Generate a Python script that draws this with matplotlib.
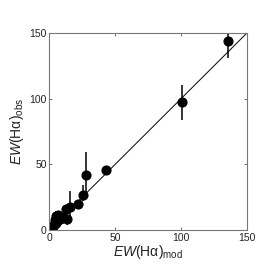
import numpy as np
import matplotlib
matplotlib.use('Agg')
import matplotlib.pyplot as plt

plt.rcParams['font.family'] = 'Liberation Sans'
plt.rcParams['mathtext.fontset'] = 'custom'
plt.rcParams['mathtext.rm'] = 'Liberation Sans'
plt.rcParams['mathtext.it'] = 'Liberation Sans:italic'

# EW(Ha) model vs observed
ew_mod = [135.5, 100.6, 42.6, 27.7, 25.6, 22.0, 15.8, 12.7, 13.5, 7.4, 4.9, 9.5, 6.0, 5.0, 3.5, 2.5, 1.5, 8.0, 10.5, 0.5, 6.5, 4.0]
ew_obs = [144.0, 97.0, 45.5, 42.0, 26.8, 19.8, 17.3, 15.8, 8.0, 8.9, 10.6, 9.0, 7.0, 5.5, 4.0, 3.0, 2.0, 8.5, 9.5, 0.5, 11.0, 7.5]
err_lo = [13.0, 13.0, 1.0, 14.0, 5.0, 1.0, 7.0, 1.0, 4.5, 2.0, 3.0, 1.0, 1.0, 1.0, 1.0, 1.0, 0.5, 1.0, 1.0, 0.3, 2.0, 1.0]
err_hi = [13.0, 13.0, 1.0, 17.0, 7.5, 1.0, 12.5, 1.0, 1.0, 2.0, 4.0, 1.0, 1.0, 1.0, 1.0, 1.0, 0.5, 1.0, 1.0, 0.3, 3.0, 1.0]

fig = plt.figure(figsize=(2.73, 2.74), dpi=100)
ax = fig.add_axes([0.181, 0.161, 0.724, 0.719])

ax.plot([0, 150], [0, 150], color='k', lw=0.7)
ax.errorbar(ew_mod, ew_obs, yerr=[err_lo, err_hi], fmt='o', color='k',
            ms=6.3, elinewidth=1.1, capsize=0)

ax.set_xlim(0, 150)
ax.set_ylim(0, 150)
ax.set_xticks([0, 50, 100, 150])
ax.set_yticks([0, 50, 100, 150])
ax.tick_params(direction='in', top=True, right=True, labelsize=7.5,
               length=2.5, width=0.6, color='#555555', pad=2, labelcolor='#222222')
for s in ax.spines.values():
    s.set_color('#777777')
    s.set_linewidth(0.8)

ax.set_xlabel('$\\it{EW}$(H\u03b1)$_{\\rm mod}$', fontsize=10, labelpad=0, color='#222222')
ax.set_ylabel('$\\it{EW}$(H\u03b1)$_{\\rm obs}$', fontsize=10, labelpad=2, color='#222222')

plt.savefig('out.png', dpi=100)
